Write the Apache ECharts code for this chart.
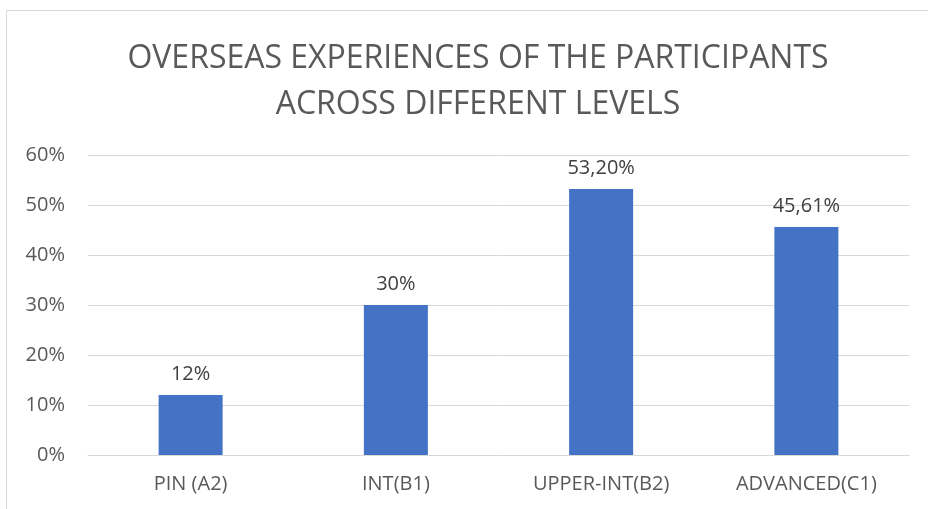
<!DOCTYPE html>
<html>
<head>
<meta charset="utf-8">
<script src="https://cdn.jsdelivr.net/npm/echarts@6/dist/echarts.min.js"></script>
<style>
  html, body { margin: 0; padding: 0; background: #fff; }
  #frame {
    position: absolute; left: 6px; top: 10px; width: 940px; height: 520px;
    border: 1px solid #d9d9d9; box-sizing: border-box;
  }
  #chart { position: absolute; left: 0; top: 0; width: 928px; height: 509px; }
</style>
</head>
<body>
<div id="frame"></div>
<div id="chart"></div>
<script>
const categories = ['PIN (A2)', 'INT(B1)', 'UPPER-INT(B2)', 'ADVANCED(C1)']
const values = [12, 30, 53.2, 45.61]
const valueLabels = ['12%', '30%', '53,20%', '45,61%']
const yTicks = [0, 10, 20, 30, 40, 50, 60]

const chart = echarts.init(document.getElementById('chart'))
chart.setOption({
  animation: false,
  textStyle: { fontFamily: 'Open Sans' },
  title: {
    text: 'OVERSEAS EXPERIENCES OF THE PARTICIPANTS\nACROSS DIFFERENT LEVELS',
    left: 473,
    textAlign: 'center',
    top: 31,
    textStyle: {
      color: '#595959',
      fontSize: 32,
      fontWeight: 'normal',
      lineHeight: 46,
      fontFamily: 'Open Sans'
    }
  },
  grid: {
    left: 88,
    right: 19,
    top: 155,
    bottom: 54
  },
  xAxis: {
    type: 'category',
    data: categories,
    axisTick: { show: false },
    axisLine: { lineStyle: { color: '#d9d9d9', width: 1 } },
    axisLabel: { color: '#595959', fontSize: 20, margin: 19 }
  },
  yAxis: {
    type: 'value',
    min: yTicks[0],
    max: yTicks[yTicks.length - 1],
    interval: 10,
    axisLine: { show: false },
    axisTick: { show: false },
    splitLine: { lineStyle: { color: '#d9d9d9', width: 1 } },
    axisLabel: { color: '#595959', fontSize: 20, margin: 23, formatter: '{value}%' }
  },
  series: [
    {
      type: 'bar',
      data: values,
      barWidth: 64,
      itemStyle: { color: '#4472C4' },
      label: {
        show: true,
        position: 'top',
        distance: 11,
        color: '#404040',
        fontSize: 20,
        formatter: p => valueLabels[p.dataIndex]
      }
    }
  ]
})
</script>
</body>
</html>
